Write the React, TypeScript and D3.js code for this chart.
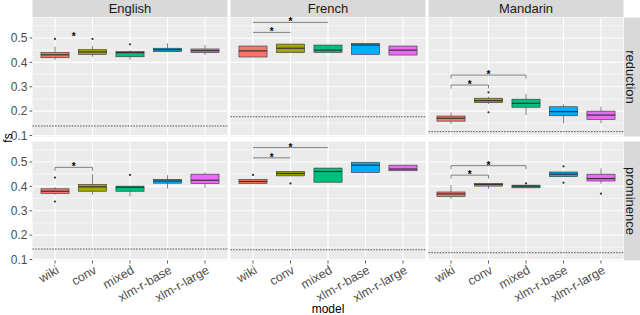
import * as d3 from "d3";

const languages = ["English", "French", "Mandarin"];
const measures = ["reduction", "prominence"];
const models = ["wiki", "conv", "mixed", "xlm-r-base", "xlm-r-large"];
const modelColors = ["#F8766D", "#A3A500", "#00BF7D", "#00B0F6", "#E76BF3"];
const yTicks = [0.1, 0.2, 0.3, 0.4, 0.5];

// box stats per model: [lower whisker, q1, median, q3, upper whisker]
const reductionEnglish = [
    [0.41, 0.419, 0.431, 0.441, 0.464],
    [0.423, 0.433, 0.443, 0.452, 0.468],
    [0.411, 0.423, 0.44, 0.444, 0.45],
    [0.442, 0.444, 0.452, 0.458, 0.478],
    [0.43, 0.44, 0.448, 0.455, 0.471],
];
const reductionFrench = [
    [0.422, 0.422, 0.447, 0.467, 0.467],
    [0.44, 0.44, 0.458, 0.475, 0.475],
    [0.441, 0.441, 0.45, 0.471, 0.471],
    [0.433, 0.433, 0.471, 0.478, 0.478],
    [0.43, 0.43, 0.45, 0.467, 0.467],
];
const reductionMandarin = [
    [0.147, 0.159, 0.171, 0.18, 0.195],
    [0.23, 0.235, 0.243, 0.253, 0.259],
    [0.184, 0.216, 0.232, 0.249, 0.27],
    [0.15, 0.181, 0.198, 0.218, 0.228],
    [0.15, 0.166, 0.184, 0.2, 0.218],
];
const prominenceEnglish = [
    [0.366, 0.371, 0.38, 0.39, 0.397],
    [0.366, 0.38, 0.398, 0.408, 0.45],
    [0.359, 0.38, 0.396, 0.401, 0.401],
    [0.391, 0.413, 0.422, 0.429, 0.446],
    [0.394, 0.412, 0.425, 0.45, 0.457],
];
const prominenceFrench = [
    [0.412, 0.412, 0.42, 0.429, 0.429],
    [0.443, 0.443, 0.453, 0.461, 0.461],
    [0.417, 0.417, 0.461, 0.475, 0.475],
    [0.457, 0.457, 0.487, 0.499, 0.499],
    [0.464, 0.464, 0.471, 0.487, 0.487],
];
const prominenceMandarin = [
    [0.349, 0.359, 0.369, 0.377, 0.405],
    [0.39, 0.401, 0.408, 0.412, 0.412],
    [0.394, 0.394, 0.401, 0.405, 0.405],
    [0.44, 0.44, 0.45, 0.459, 0.459],
    [0.411, 0.422, 0.432, 0.45, 0.474],
];

// outliers per model
const reductionEnglishOut = [[0.496], [0.496], [0.474], [], []];
const reductionFrenchOut = [[], [], [], [], []];
const reductionMandarinOut = [[], [0.277, 0.195], [], [], []];
const prominenceEnglishOut = [[0.436, 0.338], [], [0.447], [], []];
const prominenceFrenchOut = [[0.447], [0.412], [], [], []];
const prominenceMandarinOut = [[], [], [0.412], [0.482, 0.415], [0.37]];

// dashed reference line per language
const reductionBaseline = [0.139, 0.177, 0.116];
const prominenceBaseline = [0.143, 0.14, 0.128];

// significance marks: from/to model index, y value, style
const reductionSig = [
    { lang: 0, from: 0, to: 1, y: 0.502, line: false, ends: false },
    { lang: 1, from: 0, to: 2, y: 0.564, line: true, ends: false },
    { lang: 1, from: 0, to: 1, y: 0.523, line: true, ends: false },
    { lang: 2, from: 0, to: 2, y: 0.348, line: true, ends: true },
    { lang: 2, from: 0, to: 1, y: 0.307, line: true, ends: true },
];
const prominenceSig = [
    { lang: 0, from: 0, to: 1, y: 0.478, line: true, ends: true },
    { lang: 1, from: 0, to: 2, y: 0.559, line: true, ends: false },
    { lang: 1, from: 0, to: 1, y: 0.517, line: true, ends: false },
    { lang: 2, from: 0, to: 2, y: 0.485, line: true, ends: true },
    { lang: 2, from: 0, to: 1, y: 0.446, line: true, ends: true },
];

const boxes = [
    [reductionEnglish, reductionFrench, reductionMandarin],
    [prominenceEnglish, prominenceFrench, prominenceMandarin],
];
const outliers = [
    [reductionEnglishOut, reductionFrenchOut, reductionMandarinOut],
    [prominenceEnglishOut, prominenceFrenchOut, prominenceMandarinOut],
];
const baselines = [reductionBaseline, prominenceBaseline];
const sigs = [reductionSig, prominenceSig];

const font = "'Liberation Sans', Arial, sans-serif";
const panelLeft = [32.5, 230.5, 428.5];
const panelW = 195;
const panelTop = [17.5, 141.5];
const panelH = 119;
const stripH = 17;

export default function App() {
    const y0 = d3.scaleLinear().domain([0.096, 0.584]).range([panelH, 0]);
    const x0 = d3
        .scalePoint()
        .domain(models)
        .range([0, panelW])
        .padding(0.6);
    const step = x0.step();
    const boxW = step * 0.75;
    const minor = [0.15, 0.25, 0.35, 0.45, 0.55];

    return (
        <svg
            width={640}
            height={315}
            style={{ position: "absolute", left: 0, top: 0, background: "#fff" }}
            fontFamily={font}
        >
            {/* column strips */}
            {languages.map((lang, li) => (
                <g key={lang} transform={`translate(${panelLeft[li]},0)`}>
                    <rect width={panelW} height={stripH} fill="#D9D9D9" />
                    <text x={panelW / 2} y={13} textAnchor="middle" fontSize={13} fill="#1A1A1A">
                        {lang}
                    </text>
                </g>
            ))}

            {measures.map((m, mi) => (
                <g key={m} transform={`translate(0,${panelTop[mi]})`}>
                    {/* row strip */}
                    <rect x={624} width={17} height={panelH} fill="#D9D9D9" />
                    <text
                        transform={`translate(631,${panelH / 2}) rotate(90)`}
                        textAnchor="middle"
                        dy="0.35em"
                        fontSize={13}
                        fill="#1A1A1A"
                    >
                        {m}
                    </text>

                    {/* y axis */}
                    {yTicks.map((t) => (
                        <g key={t} transform={`translate(0,${y0(t)})`}>
                            <line x1={29.5} x2={32.5} stroke="#333" strokeWidth={0.8} />
                            <text x={27.5} dy="0.36em" textAnchor="end" fontSize={12} fill="#4D4D4D">
                                {d3.format(".1f")(t)}
                            </text>
                        </g>
                    ))}

                    {languages.map((lang, li) => {
                        const stats = boxes[mi][li];
                        const outs = outliers[mi][li];
                        return (
                            <g key={lang} transform={`translate(${panelLeft[li]},0)`}>
                                <rect width={panelW} height={panelH} fill="#EBEBEB" />
                                {minor.map((t) => (
                                    <line key={t} x2={panelW} y1={y0(t)} y2={y0(t)} stroke="#fff" strokeWidth={0.5} />
                                ))}
                                {yTicks.map((t) => (
                                    <line key={t} x2={panelW} y1={y0(t)} y2={y0(t)} stroke="#fff" strokeWidth={1.1} />
                                ))}
                                {models.map((md) => (
                                    <line key={md} x1={x0(md)} x2={x0(md)} y2={panelH} stroke="#fff" strokeWidth={1.1} />
                                ))}

                                <line
                                    x2={panelW}
                                    y1={y0(baselines[mi][li])}
                                    y2={y0(baselines[mi][li])}
                                    stroke="#333"
                                    strokeWidth={0.8}
                                    strokeDasharray="1.6,1.2"
                                />

                                {models.map((md, k) => {
                                    const [lo, q1, med, q3, hi] = stats[k];
                                    const cx = x0(md)!;
                                    return (
                                        <g key={md}>
                                            <line x1={cx} x2={cx} y1={y0(hi)} y2={y0(q3)} stroke="#333" strokeWidth={0.6} />
                                            <line x1={cx} x2={cx} y1={y0(q1)} y2={y0(lo)} stroke="#333" strokeWidth={0.6} />
                                            <rect
                                                x={cx - boxW / 2}
                                                width={boxW}
                                                y={y0(q3)}
                                                height={y0(q1) - y0(q3)}
                                                fill={modelColors[k]}
                                                stroke="#333"
                                                strokeWidth={0.6}
                                            />
                                            <line
                                                x1={cx - boxW / 2}
                                                x2={cx + boxW / 2}
                                                y1={y0(med)}
                                                y2={y0(med)}
                                                stroke="#333"
                                                strokeWidth={1.2}
                                            />
                                            {outs[k].map((o, oi) => (
                                                <circle key={oi} cx={cx} cy={y0(o)} r={1.1} fill="#333" />
                                            ))}
                                        </g>
                                    );
                                })}

                                {sigs[mi]
                                    .filter((s) => s.lang === li)
                                    .map((s, si) => {
                                        const xa = x0(models[s.from])!;
                                        const xb = x0(models[s.to])!;
                                        const yy = y0(s.y);
                                        return (
                                            <g key={si}>
                                                {s.line && (
                                                    <path
                                                        d={
                                                            s.ends
                                                                ? `M${xa},${yy + 3.5}V${yy}H${xb}V${yy + 3.5}`
                                                                : `M${xa},${yy}H${xb}`
                                                        }
                                                        fill="none"
                                                        stroke="#666"
                                                        strokeWidth={0.8}
                                                    />
                                                )}
                                                <text
                                                    x={(xa + xb) / 2}
                                                    y={yy + 3}
                                                    textAnchor="middle"
                                                    fontSize={10}
                                                    fontWeight="bold"
                                                    fill="#000"
                                                >
                                                    *
                                                </text>
                                            </g>
                                        );
                                    })}

                                {mi === 1 &&
                                    models.map((md) => (
                                        <g key={md} transform={`translate(${x0(md)},${panelH})`}>
                                            <line y2={3} stroke="#333" strokeWidth={0.8} />
                                            <text
                                                transform={`translate(5,12) rotate(-30)`}
                                                textAnchor="end"
                                                fontSize={12.5}
                                                fill="#4D4D4D"
                                            >
                                                {md}
                                            </text>
                                        </g>
                                    ))}
                            </g>
                        );
                    })}
                </g>
            ))}

            <text transform="translate(12,138) rotate(-90)" textAnchor="middle" fontSize={12} fill="#000">
                fs
            </text>
            <text x={328} y={313} textAnchor="middle" fontSize={12} fill="#000">
                model
            </text>
        </svg>
    );
}
